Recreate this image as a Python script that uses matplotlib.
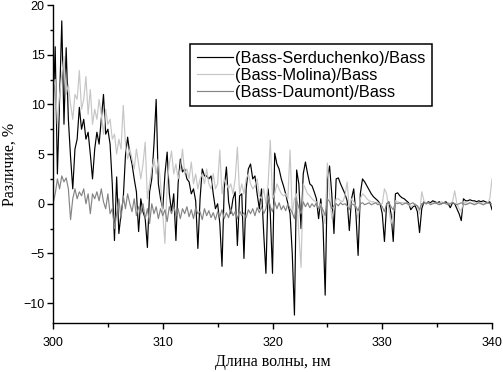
import numpy as np
import matplotlib
matplotlib.use("Agg")
import matplotlib.pyplot as plt
from matplotlib.ticker import MultipleLocator

wavelength = np.round(np.arange(300.0, 340.001, 0.2), 1)

serduchenko = [
    9.0, 15.8, 3.0, 10.5, 18.4,
    8.0, 15.7, 8.5, 4.7, 1.5,
    5.5, 6.5, 9.7, 7.5, 8.5,
    6.5, 7.2, 5.0, 2.5, 5.5,
    7.2, 6.0, 8.5, 11.0, 7.0,
    7.5, 6.0, 2.0, -3.7, 2.7,
    -3.0, -1.0, 0.5, 4.8, 6.7,
    5.0, 4.0, 2.5, 1.2, -2.8,
    0.5, -0.8, -1.5, -4.4, 1.2,
    2.5, 6.0, 10.5, 2.0, 0.5,
    -0.5, 3.0, 5.2, 1.0, -0.8,
    1.0, -3.7, 2.0, 4.5, 3.2,
    3.5, 2.5, 2.2, 1.0, 1.5,
    0.3, -4.5, 0.5, 3.5, 2.8,
    2.8, 2.5, 2.8, 1.0, -0.5,
    0.0, -2.0, -6.3, 1.5, 3.7,
    0.2, -1.0, 0.5, 1.2, -4.2,
    0.8, 1.0, -5.5, 1.5, 3.5,
    4.0, 2.5, 2.8, 1.0, -0.5,
    1.5, -3.0, -7.0, 1.5, -1.0,
    -7.0, 5.1, 4.0, 3.5, 2.5,
    1.8, 1.0, 0.0, -1.0, -5.0,
    -11.2, 3.4, 2.0, -2.5, 3.0,
    4.2, 3.0, 2.0, 1.8, 1.2,
    0.5, -1.5, 0.5, -2.0, -9.2,
    2.5, 3.8, 1.0, -3.0, 2.5,
    2.6, 2.0, 1.5, 1.0, 0.3,
    -2.7, 0.5, 1.5, -1.0, -5.2,
    1.0, 2.5, 2.2, 1.8, 1.4,
    1.0, 0.7, 0.5, 0.3, 0.0,
    -1.0, -3.8, 0.0, 0.2, -1.0,
    -3.8, 1.0, 1.1, 0.8, 0.6,
    0.5, 0.3, 0.1, -0.6, -0.3,
    -0.2, -0.8, -2.9, -0.5, 0.2,
    0.0, 0.2, 0.1, 0.3, 0.2,
    0.1, 0.2, 0.0, 0.1, 0.2,
    0.0, -0.4, 0.1, 0.0, -0.5,
    -1.0, -1.7, 0.5, 0.3, 0.3,
    0.4, 0.3, 0.3, 0.2, 0.3,
    0.2, 0.3, 0.2, 0.1, 0.2,
    -0.6,
]

molina = [
    11.5, 12.5, 8.0, 11.0, 13.0,
    14.8, 11.0, 12.0, 10.0, 8.5,
    11.0, 10.5, 13.4, 9.5, 10.5,
    12.8, 9.0, 11.5, 8.0, 9.5,
    8.5, 10.5, 9.0, 7.0, 9.5,
    8.0, 8.5, 6.5, 7.0, 5.0,
    6.5, 5.5, 9.9, 6.0, 4.5,
    5.5, 4.5, 3.5, 5.5, 4.0,
    2.5, 4.0, 6.2, 0.5, 2.0,
    3.5, 4.5, 3.0, 4.5, 2.0,
    -1.0, -4.0, 2.0, 4.0, 5.3,
    3.0, 4.0, 2.5, 3.5, 5.5,
    3.0, 3.5, 2.5, 4.2, 2.0,
    3.0, 1.5, 2.5, 3.0, 2.0,
    3.5, 2.0, 1.5, 3.0, 1.5,
    2.0, 5.4, 1.0, 2.5, 2.0,
    1.5, 2.0, 1.0, 2.5, 5.7,
    1.0, 2.0, 1.0, 2.5, 3.0,
    2.0, 1.5, 1.8, 2.5, 0.8,
    0.5, 1.5, 0.0, 2.0, 6.4,
    0.5, 1.0, 2.0, 1.5, 1.0,
    0.8, 1.0, 0.5, 5.4, -1.0,
    0.5, 1.0, -3.0, -6.4, 2.0,
    1.5, 1.0, 0.8, 0.5, 0.3,
    0.2, -0.5, 0.0, -1.0, -2.0,
    4.1, 1.0, -1.5, -0.5, 0.5,
    0.5, 0.3, 0.2, 0.8, 2.2,
    -0.5, 0.5, 0.2, -0.3, -1.5,
    0.5, 1.0, 0.8, 0.5, 0.3,
    0.2, 0.2, 0.1, 0.1, 0.0,
    0.0, 1.5, 1.0, -0.5, -2.0,
    -1.0, 0.3, 0.2, 0.1, 0.1,
    0.1, 0.0, 0.0, -0.3, -0.2,
    0.0, -0.3, -1.0, 1.2, 0.3,
    0.0, 0.1, 0.0, 0.1, 0.0,
    0.1, 0.0, 0.2, 0.1, 0.0,
    0.1, 0.0, 0.2, 1.3, 0.0,
    -0.5, -0.8, 0.2, 0.1, 0.0,
    0.1, 0.0, 0.1, 0.0, 0.1,
    0.0, 0.1, 0.0, 0.1, 0.5,
    2.5,
]

daumont = [
    0.0, 1.0, 2.5, 1.5, 2.8,
    2.2, 2.6, 1.5, -1.6, 0.5,
    1.5, 0.5, 1.2, 0.8, 1.5,
    0.0, 1.0, -1.0, 1.0, 0.5,
    1.2, 0.3, 1.5, 0.2, -0.5,
    1.0, -1.0, -0.5, -2.5, -1.0,
    0.5, -1.5, 0.8, -0.5, 1.0,
    0.0, -0.8, 0.5, -1.2, -0.3,
    -1.0, 0.0, -1.5, -0.5, -2.0,
    0.0, -1.0, -0.3, -1.5, -0.5,
    -1.2, -0.6, -1.8, -0.3, -1.0,
    -0.2, -1.2, -0.5, -1.5, -0.5,
    -1.0, -0.3, -1.3, -0.6, -1.5,
    -0.4, -1.0, -0.8, -1.6, -0.5,
    -1.2, -0.7, -1.4, -0.9, -1.6,
    -0.8, -1.3, -0.6, -1.5, -0.9,
    -1.4, -0.5, -1.2, -0.8, -1.5,
    -0.7, -1.2, -0.9, -1.4, -0.6,
    -1.0, -0.5, -1.2, -0.4, -0.9,
    -0.3, -1.0, -0.5, 0.8, -0.3,
    -0.8, 0.2, -0.5, 0.1, -0.6,
    -0.2, -0.7, 0.0, -0.5, -0.9,
    -1.5, 0.3, -0.4, -1.0, 0.2,
    -0.3, 0.1, -0.4, 0.0, -0.3,
    0.1, -0.5, -0.2, -0.6, -1.2,
    0.5, 0.2, -0.5, -0.2, 0.0,
    -0.2, 0.1, -0.1, 0.0, -0.2,
    -0.6, 0.0, -0.1, -0.3, -0.7,
    0.0, 0.1, -0.1, 0.0, 0.1,
    -0.1, 0.0, 0.1, -0.1, 0.0,
    -0.3, -0.8, 0.0, 0.1, -0.3,
    -0.6, 0.1, 0.0, 0.1, -0.1,
    0.0, 0.1, -0.1, 0.0, 0.1,
    -0.1, -0.2, -0.6, 0.0, 0.1,
    0.0, 0.1, -0.1, 0.0, 0.1,
    0.0, -0.1, 0.0, 0.1, 0.0,
    -0.1, 0.0, 0.1, 0.0, -0.1,
    0.0, 0.1, 0.0, -0.1, 0.0,
    0.1, 0.0, -0.1, 0.0, 0.1,
    0.0, -0.1, 0.0, 0.1, 0.0,
    0.0,
]

labels = ["(Bass-Serduchenko)/Bass", "(Bass-Molina)/Bass", "(Bass-Daumont)/Bass"]
colors = ["#000000", "#c6c6c6", "#858585"]

plt.rcParams["font.family"] = ["Liberation Sans", "DejaVu Sans"]

fig = plt.figure(figsize=(5.03, 3.72), dpi=100)
ax = fig.add_axes([53 / 503, 1 - 323 / 372, 439 / 503, 318 / 372])

for series, lab, col in zip([serduchenko, molina, daumont], labels, colors):
    ax.plot(wavelength, series, color=col, lw=0.85, label=lab)

ax.set_xlim(300, 340)
ax.set_ylim(-12, 20)
ax.xaxis.set_major_locator(MultipleLocator(10))
ax.xaxis.set_minor_locator(MultipleLocator(5))
ax.yaxis.set_major_locator(MultipleLocator(5))
ax.yaxis.set_minor_locator(MultipleLocator(2.5))
ax.spines["top"].set_visible(False)
ax.spines["right"].set_visible(False)
for s in ["left", "bottom"]:
    ax.spines[s].set_linewidth(1.0)
ax.tick_params(axis="x", which="major", direction="out", length=4, width=1, labelsize=9, pad=6)
ax.tick_params(axis="x", which="minor", direction="out", length=3, width=1)
ax.tick_params(axis="y", which="major", direction="out", length=4, width=1, labelsize=9, pad=2)
ax.tick_params(axis="y", which="minor", direction="out", length=2.5, width=1)

serif = ["Liberation Serif", "DejaVu Serif"]
ax.set_xlabel("Длина волны, нм", family=serif, fontsize=11.5, labelpad=4)
ax.set_ylabel("Различие, %", family=serif, fontsize=11.5, labelpad=4)

leg = ax.legend(loc="upper left", bbox_to_anchor=(0.312, 0.877), fontsize=11.8,
                frameon=True, fancybox=False, edgecolor="black", framealpha=1,
                handlelength=2.2, handletextpad=0.15, borderpad=0.4,
                labelspacing=0.12, borderaxespad=0)
leg.get_frame().set_linewidth(1.1)

fig.savefig("out.png", dpi=100)
